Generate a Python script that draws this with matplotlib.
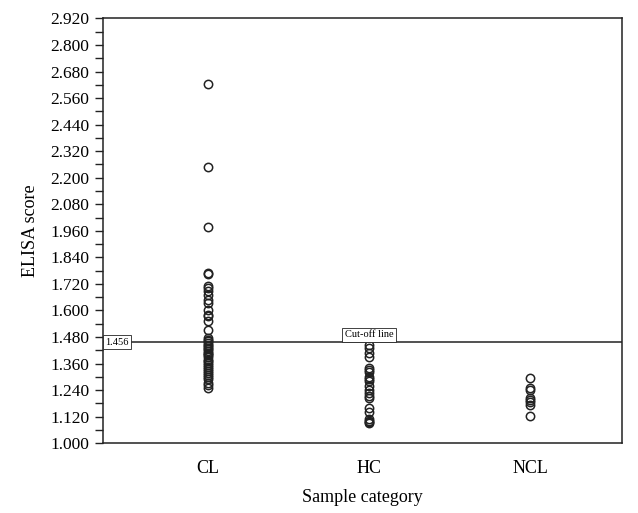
import numpy as np
import matplotlib.pyplot as plt
from matplotlib.ticker import FixedLocator, FormatStrFormatter

# categories and ELISA scores
categories = ["CL", "HC", "NCL"]

cl_scores = [2.623, 2.248, 1.979, 1.768, 1.764, 1.712, 1.700, 1.690, 1.672, 1.648,
             1.636, 1.600, 1.580, 1.574, 1.552, 1.510, 1.476, 1.466, 1.460, 1.452,
             1.446, 1.440, 1.432, 1.424, 1.418, 1.410, 1.404, 1.398, 1.390, 1.378,
             1.372, 1.362, 1.352, 1.344, 1.336, 1.328, 1.318, 1.310, 1.300, 1.292,
             1.272, 1.262, 1.250]
hc_scores = [1.445, 1.430, 1.410, 1.390, 1.340, 1.330, 1.320, 1.300, 1.290, 1.280,
             1.260, 1.240, 1.225, 1.215, 1.205, 1.160, 1.140, 1.110, 1.100, 1.095,
             1.090]
ncl_scores = [1.295, 1.250, 1.240, 1.205, 1.195, 1.185, 1.172, 1.122]

cutoff = 1.456

plt.rcParams['font.family'] = ['Liberation Serif', 'DejaVu Serif']

fig = plt.figure(figsize=(6.38, 5.13), dpi=100)
ax = fig.add_axes([0.161, 0.136, 0.814, 0.828])

for i, vals in enumerate([cl_scores, hc_scores, ncl_scores]):
    ax.plot([i + 1] * len(vals), vals, linestyle="none", marker="o", markersize=6,
            markerfacecolor="none", markeredgecolor="#222222", markeredgewidth=1.1)

# cut-off line with its two little boxed labels
ax.axhline(cutoff, color="#222222", linewidth=1.1)
ax.text(0.36, cutoff, "1.456", fontsize=7.5, va="center", ha="left",
        bbox=dict(boxstyle="square,pad=0.25", facecolor="white", edgecolor="#222222", linewidth=0.6))
ax.text(2.0, cutoff + 0.014, "Cut-off line", fontsize=7.5, va="bottom", ha="center",
        bbox=dict(boxstyle="square,pad=0.25", facecolor="white", edgecolor="#222222", linewidth=0.6))

ax.set_xlim(0.345, 3.57)
ax.set_ylim(1.0, 2.92)
ax.set_xticks([1, 2, 3])
ax.set_xticklabels(categories, fontsize=13)
ax.yaxis.set_major_locator(FixedLocator(np.round(np.arange(1.0, 2.93, 0.12), 3)))
ax.yaxis.set_minor_locator(FixedLocator(np.round(np.arange(1.06, 2.92, 0.12), 3)))
ax.yaxis.set_major_formatter(FormatStrFormatter("%.3f"))
ax.tick_params(axis="y", which="major", labelsize=12.5, length=6, width=1, color="#222222")
ax.tick_params(axis="y", which="minor", length=6, width=1, color="#222222")
ax.tick_params(axis="x", length=0, pad=12)
for s in ax.spines.values():
    s.set_linewidth(1.1)
    s.set_color("#222222")

ax.set_xlabel("Sample category", fontsize=13, labelpad=9)
ax.set_ylabel("ELISA score", fontsize=13, labelpad=8)

fig.savefig("out.png", dpi=100)
